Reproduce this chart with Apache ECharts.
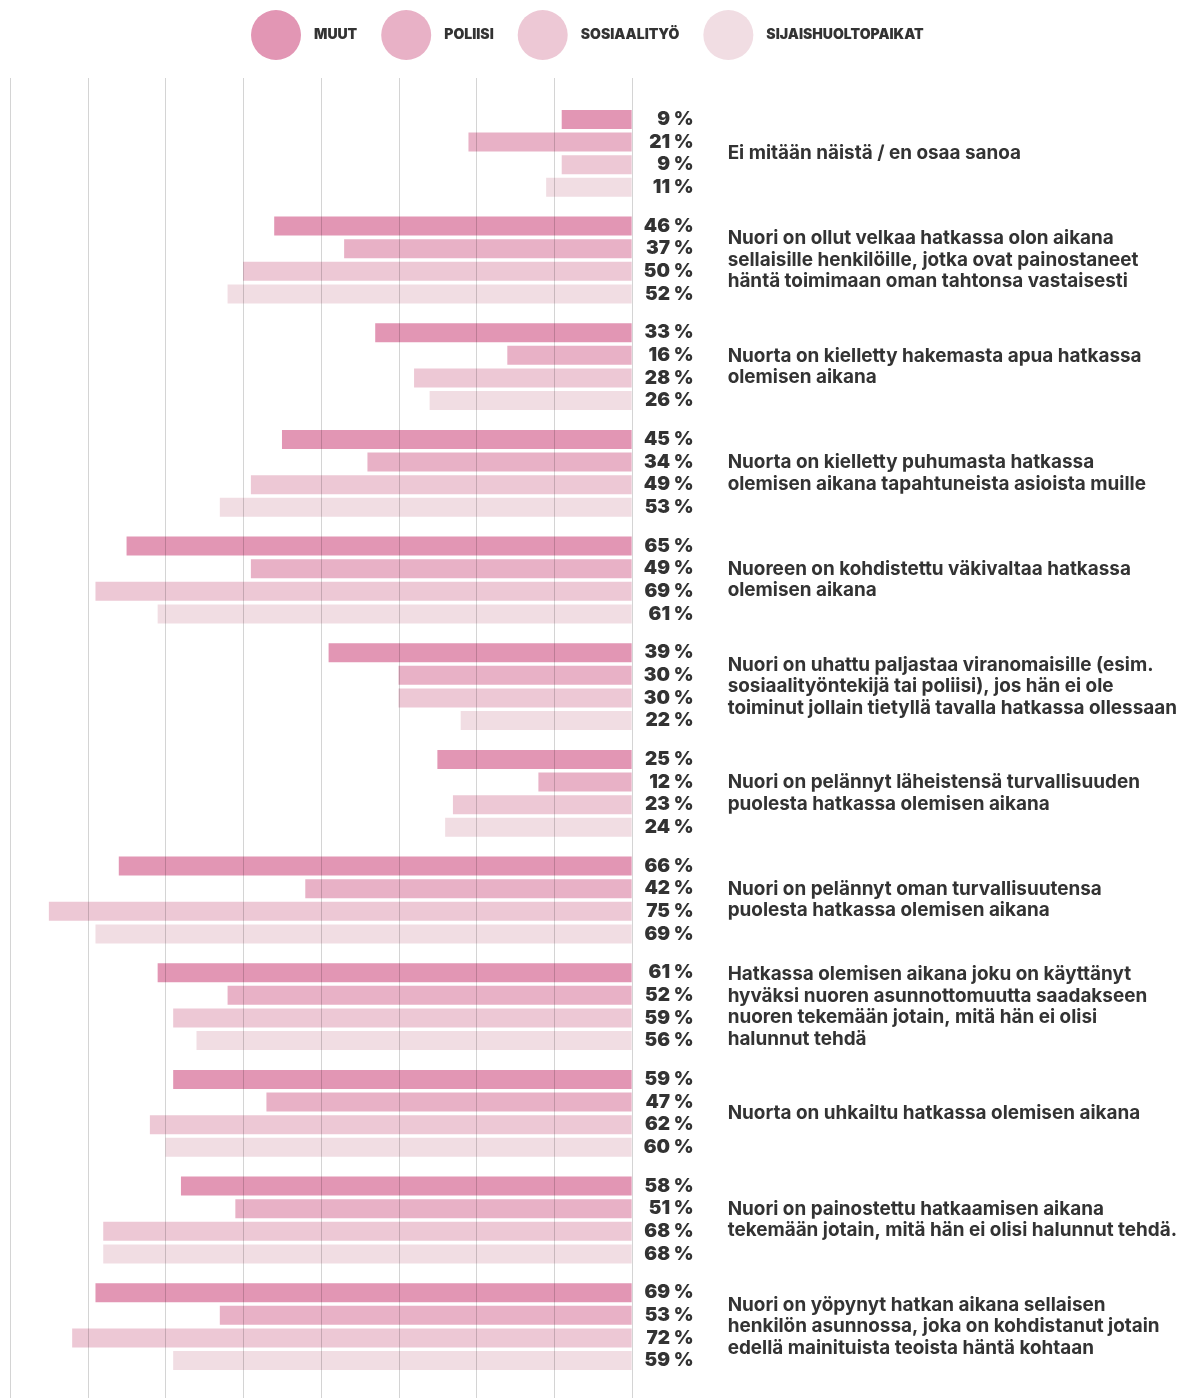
<!DOCTYPE html>
<html>
<head>
<meta charset="utf-8">
<script src="https://cdn.jsdelivr.net/npm/echarts@6/dist/echarts.min.js"></script>
<style>
  html, body { margin: 0; padding: 0; background: #fff; }
  #chart { width: 1180px; height: 1398px; }
</style>
</head>
<body>
<div id="chart"></div>
<script>
const categories = [
  "Ei mitään näistä / en osaa sanoa",
  "Nuori on ollut velkaa hatkassa olon aikana\nsellaisille henkilöille, jotka ovat painostaneet\nhäntä toimimaan oman tahtonsa vastaisesti",
  "Nuorta on kielletty hakemasta apua hatkassa\nolemisen aikana",
  "Nuorta on kielletty puhumasta hatkassa\nolemisen aikana tapahtuneista asioista muille",
  "Nuoreen on kohdistettu väkivaltaa hatkassa\nolemisen aikana",
  "Nuori on uhattu paljastaa viranomaisille (esim.\nsosiaalityöntekijä tai poliisi), jos hän ei ole\ntoiminut jollain tietyllä tavalla hatkassa ollessaan",
  "Nuori on pelännyt läheistensä turvallisuuden\npuolesta hatkassa olemisen aikana",
  "Nuori on pelännyt oman turvallisuutensa\npuolesta hatkassa olemisen aikana",
  "Hatkassa olemisen aikana joku on käyttänyt\nhyväksi nuoren asunnottomuutta saadakseen\nnuoren tekemään jotain, mitä hän ei olisi\nhalunnut tehdä",
  "Nuorta on uhkailtu hatkassa olemisen aikana",
  "Nuori on painostettu hatkaamisen aikana\ntekemään jotain, mitä hän ei olisi halunnut tehdä.",
  "Nuori on yöpynyt hatkan aikana sellaisen\nhenkilön asunnossa, joka on kohdistanut jotain\nedellä mainituista teoista häntä kohtaan"
];
const seriesNames = ["MUUT", "POLIISI", "SOSIAALITYÖ", "SIJAISHUOLTOPAIKAT"];
const muut = [9, 46, 33, 45, 65, 39, 25, 66, 61, 59, 58, 69];
const poliisi = [21, 37, 16, 34, 49, 30, 12, 42, 52, 47, 51, 53];
const sosiaalityo = [9, 50, 28, 49, 69, 30, 23, 75, 59, 62, 68, 72];
const sijaishuolto = [11, 52, 26, 53, 61, 22, 24, 69, 56, 60, 68, 59];
const colors = ["#e296b4", "#e8b1c6", "#edc8d5", "#f1dde3"];

const chart = echarts.init(document.getElementById('chart'), null, { renderer: 'canvas' });
const fontFamily = 'Inter, "Noto Sans", sans-serif';

function barSeries(name, data, color) {
  return {
    name: name,
    type: 'bar',
    xAxisIndex: 0,
    yAxisIndex: 0,
    data: data,
    barWidth: 19,
    barGap: '19%',
    itemStyle: { color: color },
    z: 2,
    label: {
      show: true,
      position: 'right',
      distance: 62,
      align: 'right',
      formatter: '{c} %',
      fontFamily: fontFamily,
      fontSize: 19,
      fontWeight: 900,
      color: '#333333'
    }
  };
}

const option = {
  backgroundColor: '#ffffff',
  animation: false,
  legend: {
    top: 10,
    left: 251,
    padding: 0,
    icon: 'circle',
    itemWidth: 50,
    itemHeight: 50,
    itemGap: 24,
    data: seriesNames,
    textStyle: {
      fontFamily: fontFamily,
      fontSize: 14,
      fontWeight: 900,
      color: '#333333',
      padding: [0, 0, 0, 8]
    }
  },
  grid: [
    { left: 10, right: 548, top: 100, height: 1280 },
    { left: 10, right: 548, top: 78, bottom: 0 }
  ],
  xAxis: [
    { gridIndex: 0, type: 'value', min: 0, max: 80, inverse: true, show: false },
    {
      gridIndex: 1, type: 'value', min: 0, max: 80, interval: 10, inverse: true,
      z: 10,
      axisLine: { show: false }, axisTick: { show: false }, axisLabel: { show: false },
      splitLine: { show: true, lineStyle: { color: 'rgba(0,0,0,0.17)', width: 1 } }
    }
  ],
  yAxis: [
    {
      gridIndex: 0, type: 'category', data: categories, inverse: true, position: 'right',
      axisLine: { show: false }, axisTick: { show: false }, splitLine: { show: false },
      axisLabel: {
        margin: 96,
        align: 'left',
        fontFamily: fontFamily,
        fontSize: 18.9,
        fontWeight: 700,
        lineHeight: 21.5,
        color: '#333333'
      }
    },
    { gridIndex: 1, type: 'value', min: 0, max: 1, show: false }
  ],
  series: [
    barSeries(seriesNames[0], muut, colors[0]),
    barSeries(seriesNames[1], poliisi, colors[1]),
    barSeries(seriesNames[2], sosiaalityo, colors[2]),
    barSeries(seriesNames[3], sijaishuolto, colors[3])
  ]
};
chart.setOption(option);
</script>
</body>
</html>
